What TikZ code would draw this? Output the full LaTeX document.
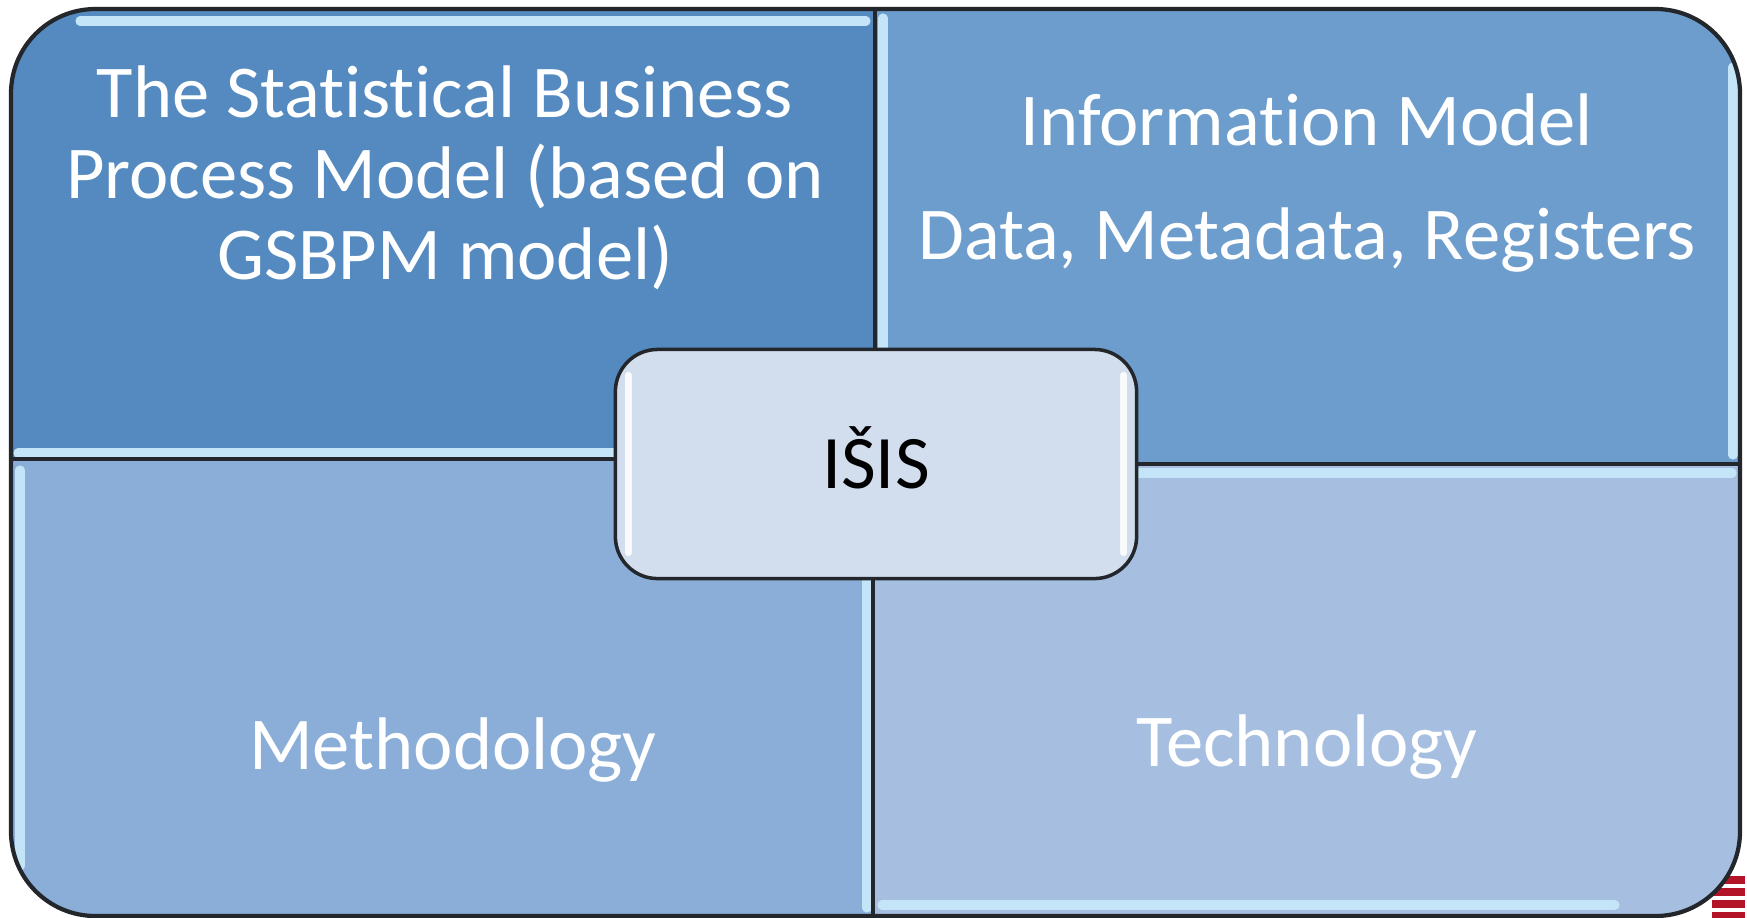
\documentclass[tikz,border=0pt]{standalone}
\usepackage{fontspec}
\setmainfont{Carlito}[Ligatures=NoCommon]
\usetikzlibrary{positioning}
\definecolor{qtl}{RGB}{84,138,192}
\definecolor{qtr}{RGB}{108,157,204}
\definecolor{qbl}{RGB}{138,174,216}
\definecolor{qbr}{RGB}{166,191,224}
\definecolor{core}{RGB}{210,222,238}
\definecolor{gloss}{RGB}{196,228,248}
\definecolor{edge}{RGB}{35,38,42}
\definecolor{stripe}{RGB}{180,20,40}
\tikzset{
  quadtext/.style={text=white, align=center, font=\fontsize{21.2}{23}\selectfont},
  shine/.style={gloss, line width=2.6pt, line cap=round},
  corebox/.style={draw=edge, line width=1pt, fill=core, rounded corners=12pt,
    minimum width=5.21cm, minimum height=2.29cm, text height=0.48cm, text depth=0pt,
    font=\fontsize{21.5}{23}\selectfont}
}
\begin{document}
\begin{tikzpicture}[x=0.01cm,y=-0.01cm]
  \useasboundingbox (0,0) rectangle (1747,917);
  \fill[white] (0,0) rectangle (1747,917);
  % red stripes behind the corner
  \foreach \s in {880,892,904,916}
    \draw[stripe, line width=2.2pt](1712,\s)--(1745,\s);
  \begin{scope}
    \clip[rounded corners=24pt](11,9) rectangle (1740,916);
    \fill[qtl](11,9) rectangle (875,459);
    \fill[qtr](875,9) rectangle (1740,464);
    \fill[qbl](11,459) rectangle (873,916);
    \fill[qbr](873,464) rectangle (1740,916);
    \draw[shine](80,21)--(866,21);
    \draw[shine](18,453)--(615,453);
    \draw[shine](883,18)--(883,350);
    \draw[shine](1733,67)--(1733,455);
    \draw[shine](1136,473)--(1732,473);
    \draw[shine](20,470)--(20,866);
    \draw[shine](867,579)--(867,908);
    \draw[shine](882,905)--(1615,905);
    \draw[edge, line width=1pt](875,9)--(875,459)--(11,459);
    \draw[edge, line width=1pt](875,459)--(875,464)--(1740,464);
    \draw[edge, line width=1pt](873,464)--(873,916);
  \end{scope}
  \draw[edge, line width=1.2pt, rounded corners=24pt](11,9) rectangle (1740,916);
  \node[quadtext] (process) at (445,178) {The Statistical Business\\Process Model (based on\\GSBPM model)};
  \node[quadtext] (info) at (1307,120) {Information Model};
  \node[quadtext, below=0.37cm of info.south, anchor=north] (data) {Data, Metadata, Registers};
  \node[quadtext] (method) at (453,750) {Methodology};
  \node[quadtext] (tech) at (1307,747) {Technology};
  \node[corebox] (isis) at (876,464) {IŠIS};
  % gloss on the core box
  \draw[white, line width=2.2pt, line cap=round, opacity=0.85]
    ([shift={(15,28)}]isis.north west)--([shift={(15,-28)}]isis.south west)
    ([shift={(-15,28)}]isis.north east)--([shift={(-15,-28)}]isis.south east);
\end{tikzpicture}
\end{document}
